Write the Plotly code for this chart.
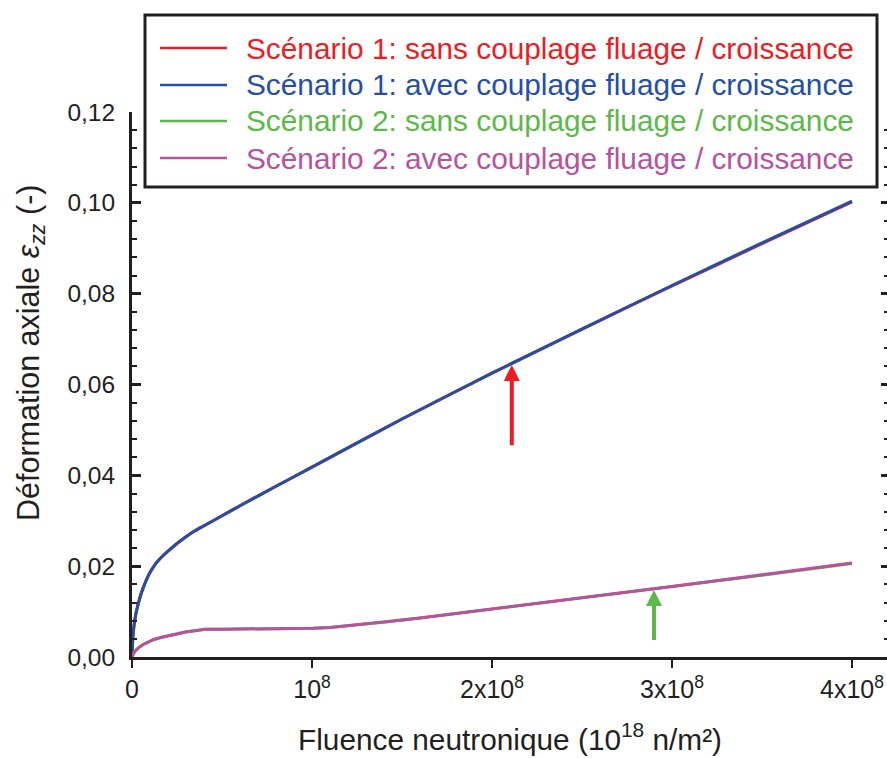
import plotly.graph_objects as go

# Fluence in units of 1e8 (x 10^18 n/m²)
fluence_s1 = [0, 0.005, 0.01, 0.02, 0.03, 0.045, 0.06, 0.08, 0.1, 0.125, 0.15, 0.175, 0.2,
              0.25, 0.3, 0.35, 0.4, 0.5, 0.6, 0.8, 1.0, 1.5, 2.0, 2.5, 3.0, 3.5, 4.0]
# Scenario 1 axial strain (sans / avec couplage, almost superimposed)
eps_s1_sans = [0, 0.0045, 0.0065, 0.0092, 0.0110, 0.0132, 0.0150, 0.0170, 0.0186, 0.0202,
               0.0214, 0.0224, 0.0233, 0.0250, 0.0265, 0.0278, 0.0289, 0.0311, 0.0333,
               0.0376, 0.0418, 0.0524, 0.0625, 0.0722, 0.0817, 0.0910, 0.1002]
eps_s1_avec = [0, 0.0045, 0.0065, 0.0092, 0.0110, 0.0132, 0.0150, 0.0170, 0.0186, 0.0202,
               0.0214, 0.0224, 0.0233, 0.0250, 0.0265, 0.0278, 0.0289, 0.0311, 0.0333,
               0.0376, 0.0418, 0.0524, 0.0625, 0.0722, 0.0818, 0.0912, 0.1004]

fluence_s2 = [0, 0.005, 0.01, 0.02, 0.03, 0.044, 0.06, 0.08, 0.1, 0.118, 0.16, 0.211, 0.26,
              0.304, 0.35, 0.406, 0.5, 0.767, 1.006, 1.1, 1.228, 1.415, 1.6, 1.783, 2.0,
              2.5, 3.0, 3.5, 4.0]
# Scenario 2 axial strain
eps_s2_sans = [0, 0.0006, 0.0009, 0.0014, 0.0018, 0.00227, 0.0027, 0.0031, 0.0035, 0.0038,
               0.0043, 0.0048, 0.0052, 0.00557, 0.0058, 0.0061, 0.00612, 0.00617, 0.00632,
               0.0065, 0.00698, 0.00777, 0.0086, 0.0095, 0.0105, 0.0130, 0.0155, 0.0180,
               0.0206]
eps_s2_avec = [0, 0.0006, 0.0009, 0.0014, 0.0018, 0.00227, 0.0027, 0.0031, 0.0035, 0.0038,
               0.0043, 0.0048, 0.0052, 0.00557, 0.0058, 0.0061, 0.00612, 0.00617, 0.00632,
               0.0065, 0.00698, 0.00777, 0.0086, 0.0095, 0.0105, 0.0130, 0.0155, 0.0181,
               0.0207]

series_names = [
    "Scénario 1: sans couplage fluage / croissance",
    "Scénario 1: avec couplage fluage / croissance",
    "Scénario 2: sans couplage fluage / croissance",
    "Scénario 2: avec couplage fluage / croissance",
]
series_colors = ["#ed1c24", "#2350a6", "#5cb947", "#b8519f"]

x_tick_vals = [0, 1, 2, 3, 4]
x_tick_text = ["0", "10<sup>8</sup>", "2x10<sup>8</sup>", "3x10<sup>8</sup>", "4x10<sup>8</sup>"]
y_tick_vals = [0, 0.02, 0.04, 0.06, 0.08, 0.10, 0.12]

# arrows: (x, tail y, tip y)
arrow_red = (2.11, 0.0463, 0.0643)
arrow_green = (2.90, 0.0034, 0.01475)

FONT = "Liberation Sans, Arial, Helvetica, sans-serif"
INK = "#231f20"

W, H = 887, 758
ML, MR, MT, MB = 132, 0, 112, 101
PW, PH = W - ML - MR, H - MT - MB


def px(xp):
    return (xp - ML) / PW


def py(yp):
    return (H - MB - yp) / PH


fig = go.Figure()
data = [
    (fluence_s1, eps_s1_sans, "spline"),
    (fluence_s1, eps_s1_avec, "spline"),
    (fluence_s2, eps_s2_sans, "linear"),
    (fluence_s2, eps_s2_avec, "linear"),
]
for (xs, ys, shp), name, col in zip(data, series_names, series_colors):
    line = dict(color=col, width=3, shape=shp)
    if shp == "spline":
        line["smoothing"] = 0.5
    fig.add_trace(go.Scatter(x=xs, y=ys, mode="lines", name=name, line=line,
                             showlegend=False))

# invisible trace on the mirrored axis so that its ticks are drawn
fig.add_trace(go.Scatter(x=[0], y=[0], yaxis="y2", mode="markers",
                         marker=dict(opacity=0), showlegend=False, hoverinfo="skip"))

shapes = []
annotations = []

# legend frame
shapes.append(dict(type="rect", xref="paper", yref="paper",
                   x0=px(145), x1=px(877), y0=py(187), y1=py(15),
                   line=dict(color=INK, width=3), fillcolor="white", layer="above"))
row_y = [48, 85, 121, 158]
for ry, name, col in zip(row_y, series_names, series_colors):
    shapes.append(dict(type="line", xref="paper", yref="paper",
                       x0=px(160), x1=px(227), y0=py(ry), y1=py(ry),
                       line=dict(color=col, width=2.5), layer="above"))
    annotations.append(dict(xref="paper", yref="paper", x=px(244), y=py(ry),
                            xanchor="left", yanchor="middle", text=name, showarrow=False,
                            font=dict(family=FONT, size=29.8, color=col)))

# arrows
for (ax_x, tail, tip), col in [(arrow_red, series_colors[0]), (arrow_green, series_colors[2])]:
    annotations.append(dict(x=ax_x, y=tip, ax=ax_x, ay=tail, xref="x", yref="y",
                            axref="x", ayref="y", text="", showarrow=True,
                            arrowhead=2, arrowsize=0.8, arrowwidth=4, arrowcolor=col,
                            standoff=0))

# axis titles
annotations.append(dict(xref="paper", yref="paper", x=px(30), y=py(353),
                        text="Déformation axiale <i>ε<sub>zz</sub></i> (-)", textangle=-90,
                        showarrow=False, xanchor="center", yanchor="middle",
                        font=dict(family=FONT, size=30.5, color=INK)))
annotations.append(dict(xref="paper", yref="paper", x=px(510), y=py(758),
                        text="Fluence neutronique (10<sup>18</sup> n/m²)",
                        showarrow=False, xanchor="center", yanchor="bottom",
                        font=dict(family=FONT, size=29.8, color=INK)))

fig.update_layout(
    width=W, height=H,
    margin=dict(l=ML, r=MR, t=MT, b=MB, pad=0),
    paper_bgcolor="white", plot_bgcolor="white",
    separators=", ",
    font=dict(family=FONT, color=INK),
    shapes=shapes, annotations=annotations,
    xaxis=dict(range=[0, PW / 180], tickvals=x_tick_vals, ticktext=x_tick_text,
               ticks="outside", ticklen=8, tickwidth=1.5, tickcolor=INK,
               showline=True, linewidth=3, linecolor=INK, showgrid=False, zeroline=False,
               tickfont=dict(family=FONT, size=25, color=INK)),
    yaxis=dict(range=[0, 0.12], tickvals=y_tick_vals, tickformat=".2f",
               ticks="inside", ticklen=9, tickwidth=3, tickcolor=INK,
               minor=dict(ticks="inside", ticklen=5, tickwidth=1.5, tickcolor=INK,
                          dtick=0.004, tick0=0, showgrid=False),
               showline=True, linewidth=3, linecolor=INK, showgrid=False, zeroline=False,
               ticklabelstandoff=9,
               tickfont=dict(family=FONT, size=24.5, color=INK)),
    yaxis2=dict(range=[0, 0.12], overlaying="y", side="right", tickvals=y_tick_vals,
                showticklabels=False, ticks="inside", ticklen=6, tickwidth=3, tickcolor=INK,
                minor=dict(ticks="inside", ticklen=3, tickwidth=1.5, tickcolor=INK,
                           dtick=0.004, tick0=0, showgrid=False),
                showline=False, showgrid=False, zeroline=False),
)

fig.write_html("out.html")
